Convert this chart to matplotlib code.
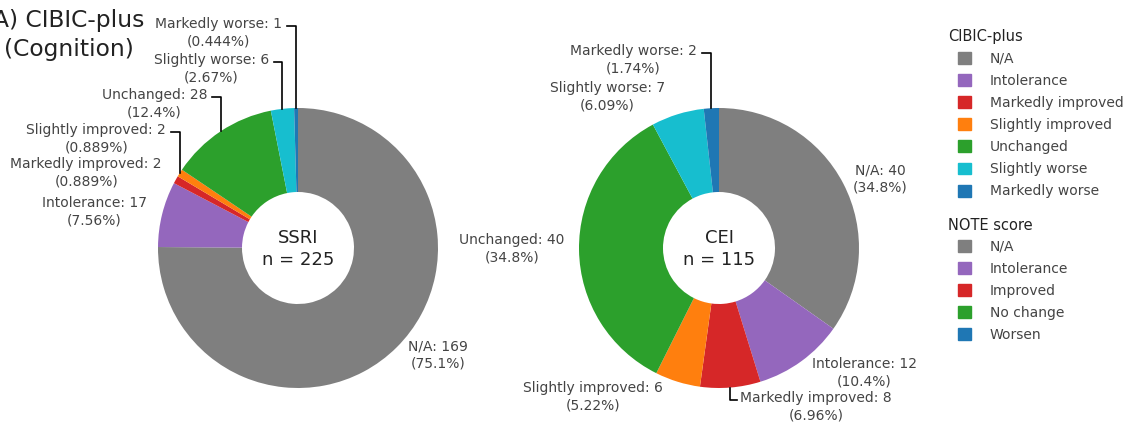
import matplotlib.pyplot as plt
import numpy as np
from matplotlib.patches import Patch

# data
cibic_cats = ["N/A", "Intolerance", "Markedly improved", "Slightly improved",
              "Unchanged", "Slightly worse", "Markedly worse"]
note_cats = ["N/A", "Intolerance", "Improved", "No change", "Worsen"]
ssri_counts = [169, 17, 2, 2, 28, 6, 1]
cei_counts = [40, 12, 8, 6, 40, 7, 2]
cibic_colors = ["#7f7f7f", "#9467bd", "#d62728", "#ff7f0e", "#2ca02c", "#17becf", "#1f77b4"]
note_colors = ["#7f7f7f", "#9467bd", "#d62728", "#2ca02c", "#1f77b4"]

W, H = 1123, 425
R = 140
TXT = "#444444"

# label layout in pixels from top-left: (x, first line y, ha, leader)
ssri_layout = [(438, 348, "center", False),
               (147, 205, "right", False),
               (162, 166, "right", False),
               (166, 132, "right", True),
               (207, 97, "right", True),
               (269, 62, "right", True),
               (282, 26, "right", True)]
cei_layout = [(880, 172, "center", False),
              (864, 366, "center", False),
              (740, 400, "left", True),
              (593, 390, "center", False),
              (512, 242, "center", False),
              (665, 90, "right", False),
              (697, 53, "right", True)]

fig = plt.figure(figsize=(W / 100, H / 100), dpi=100)
ax = fig.add_axes([0, 0, 1, 1])


def draw_donut(counts, cx, cy, name, layout):
    total = sum(counts)
    wedges, _ = ax.pie(counts, colors=cibic_colors, startangle=90, counterclock=False,
                       radius=R, center=(cx, H - cy),
                       wedgeprops=dict(width=R * 0.6, linewidth=0))
    ax.text(cx, H - cy + 10, name, ha="center", va="center", fontsize=13, color="#222222")
    ax.text(cx, H - cy - 12, f"n = {total}", ha="center", va="center", fontsize=13, color="#222222")
    for w, cat, n, (lx, ly, ha, leader) in zip(wedges, cibic_cats, counts, layout):
        pct = 100 * n / total
        ax.text(lx, H - ly + 9, f"{cat}: {n}\n({pct:.3g}%)", ha=ha, va="top",
                multialignment="center", fontsize=10, color=TXT, linespacing=1.3)
        if leader:
            # elbow leader from the middle of the wedge's outer edge
            mid = np.deg2rad((w.theta1 + w.theta2) / 2)
            axx = cx + R * np.cos(mid)
            axy = H - cy + R * np.sin(mid)
            gx = lx + 5 if ha == "right" else lx - 3
            ax.plot([gx, axx, axx], [H - ly, H - ly, axy], color="black", lw=1.2)


draw_donut(ssri_counts, 298, 248, "SSRI", ssri_layout)
draw_donut(cei_counts, 719, 248, "CEI", cei_layout)

ax.set_xlim(0, W)
ax.set_ylim(0, H)
ax.set_aspect("auto")
ax.axis("off")

# title (cut at the left edge like the original)
fig.text(69 / W, 1 - 35 / H, "A) CIBIC-plus\n(Cognition)", ha="center", va="center",
         fontsize=16.8, color="#222222", linespacing=1.3)

# legends
fig.text(948 / W, 1 - 36 / H, "CIBIC-plus", ha="left", va="center", fontsize=10.5, color="#222222")
fig.text(948 / W, 1 - 225 / H, "NOTE score", ha="left", va="center", fontsize=10.5, color="#222222")
h1 = [Patch(color=c, label=l) for c, l in zip(cibic_colors, cibic_cats)]
h2 = [Patch(color=c, label=l) for c, l in zip(note_colors, note_cats)]
leg_kw = dict(loc="upper left", frameon=False, fontsize=10, labelspacing=0.58,
              handlelength=0.95, handleheight=0.95, handletextpad=1.35, borderpad=0,
              borderaxespad=0, labelcolor=TXT)
leg1 = fig.legend(handles=h1, bbox_to_anchor=(958 / W, 1 - 52 / H), **leg_kw)
leg2 = fig.legend(handles=h2, bbox_to_anchor=(958 / W, 1 - 240 / H), **leg_kw)

fig.savefig("out.png", dpi=100)
